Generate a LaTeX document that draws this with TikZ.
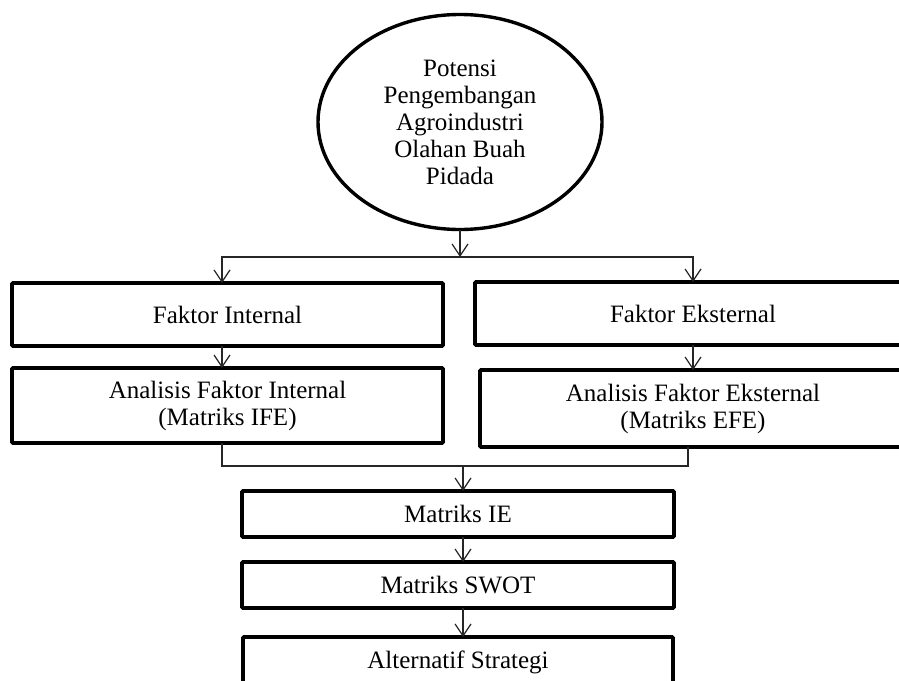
\documentclass[tikz,border=0pt]{standalone}
\usepackage{fontspec}
\setmainfont{Liberation Serif}
\usetikzlibrary{shapes.geometric,arrows.meta}
\begin{document}
\begin{tikzpicture}[x=1pt,y=-1pt,
  every node/.style={font=\fontsize{25}{27}\selectfont, align=center, inner sep=0pt, outer sep=0pt},
  boxnode/.style={draw, line width=3.6pt, rounded corners=1pt, rectangle},
  ovalnode/.style={draw, line width=3.4pt, ellipse},
  conn/.style={line width=1.2pt, draw=black!85},
  arr/.style={conn, -{Straight Barb[length=12pt,width=16pt,line width=1.2pt]}}
]
\useasboundingbox (0,0) rectangle (899,680);
\clip (0,0) rectangle (899,680);
\fill[white] (0,0) rectangle (899,680);

\node[ovalnode, minimum width=284pt, minimum height=215pt] (top) at (460,122)
  {Potensi\\Pengembangan\\Agroindustri\\Olahan Buah\\Pidada};

\node[boxnode, minimum width=431pt, minimum height=63pt] (lb1) at (227.5,314.5) {Faktor Internal};
\node[boxnode, minimum width=431pt, minimum height=75pt] (lb2) at (227.5,405.5) {Analisis Faktor Internal\\(Matriks IFE)};
\node[boxnode, minimum width=436pt, minimum height=63pt] (rb1) at (693,313.5) {Faktor Eksternal};
\node[boxnode, minimum width=426pt, minimum height=77pt] (rb2) at (693,408.5) {Analisis Faktor Eksternal\\(Matriks EFE)};

\node[boxnode, minimum width=432pt, minimum height=46pt] (ie) at (458,514) {Matriks IE};
\node[boxnode, minimum width=432pt, minimum height=46pt] (swot) at (458,585) {Matriks SWOT};
\node[boxnode, minimum width=430pt, minimum height=50pt] (alt) at (458,662) {Alternatif Strategi};

\coordinate (sp) at (460,257);
\coordinate (mg) at (463,466);

\draw[arr] (top.south) -- (sp);
\draw[arr] (sp) -| ([xshift=-5.5pt]lb1.north);
\draw[arr] (sp) -| (rb1.north);
\draw[arr] ([xshift=-5.5pt]lb1.south) -- ([xshift=-5.5pt]lb2.north);
\draw[arr] (rb1.south) -- (rb2.north);
\draw[conn] ([xshift=-5.5pt]lb2.south) |- (mg) -| ([xshift=-5pt]rb2.south);
\draw[arr] (mg) -- ([xshift=5pt]ie.north);
\draw[arr] ([xshift=5pt]ie.south) -- ([xshift=5pt]swot.north);
\draw[arr] ([xshift=5pt]swot.south) -- ([xshift=5pt]alt.north);
\end{tikzpicture}
\end{document}
